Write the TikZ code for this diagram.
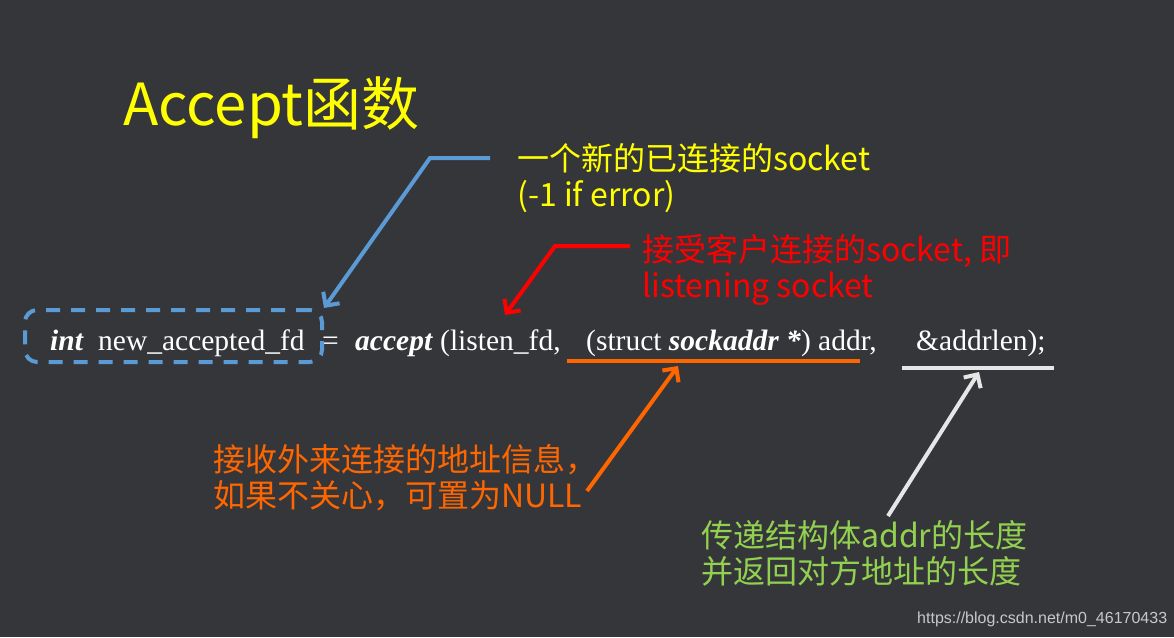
\documentclass[tikz,border=0pt]{standalone}
\usepackage{fontspec}
\setmainfont{Liberation Serif}
\newfontfamily\cjk{Noto Sans CJK SC}
\newfontfamily\urlfont{Liberation Sans}
\usetikzlibrary{arrows.meta, positioning}
\definecolor{slidebg}{HTML}{35363A}
\definecolor{titleyellow}{HTML}{FFFF00}
\definecolor{noteblue}{HTML}{5B9BD5}
\definecolor{notered}{HTML}{FF0000}
\definecolor{noteorange}{HTML}{FF6600}
\definecolor{notegreen}{HTML}{92D050}
\definecolor{notewhite}{HTML}{E6E6E6}
\definecolor{creditgray}{HTML}{C8C8C8}
\tikzstyle{note} = [inner sep=0pt, anchor=base west, align=left, font=\cjk\fontsize{32}{36}\selectfont]
\tikzstyle{code} = [inner sep=0pt, anchor=base west, text=white, font=\fontsize{29.5}{34}\selectfont]
\tikzstyle{pointer} = [line width=4pt, -{Straight Barb[length=10pt,width=20pt]}]
\tikzstyle{underline} = [line width=4pt]

\begin{document}
\begin{tikzpicture}[x=1pt, y=-1pt]

    % Slide background
    \fill[slidebg] (0,0) rectangle (1174,637);

    % Title
    \node (title) [inner sep=0pt, anchor=base west, text=titleyellow, font=\cjk\fontsize{58}{64}\selectfont] at (123,125) {Accept函数};

    % The call itself
    \node (int) [code] at (50,350) {\textbf{\textit{int}}};
    \node (newfd) [code] at (98,350) {new\_accepted\_fd};
    \node (eq) [code] at (322,350) {=};
    \node (accept) [code] at (355,350) {\textbf{\textit{accept}}};
    \node (listen) [code] at (440,350) {(listen\_fd,};
    \node (cast) [code] at (586,350) {(struct \textbf{\textit{sockaddr *}}) addr,};
    \node (addrlen) [code] at (916,350) {\&addrlen);};

    % Return value box and underlines
    \node (retbox) [draw=noteblue, line width=4pt, dash pattern=on 14pt off 11pt, rounded corners=12pt, minimum width=297pt, minimum height=52pt] at (173.5,336) {};
    \draw [underline, noteorange] (567,361) coordinate (castL) -- (860,361) coordinate (castR);
    \draw [underline, notewhite] (902,368) coordinate (lenL) -- (1054,368) coordinate (lenR);

    % Notes (anchored on the baseline of their last line)
    \node (ynote) [note, text=titleyellow] at (517,206) {一个新的已连接的socket\\(-1 if error)};
    \node (rnote) [note, text=notered] at (642,297) {接受客户连接的socket, 即\\listening socket};
    \node (onote) [note, text=noteorange] at (213,507) {接收外来连接的地址信息，\\如果不关心，可置为NULL};
    \node (gnote) [note, text=notegreen] at (701,583) {传递结构体addr的长度\\并返回对方地址的长度};

    % Pointers
    \coordinate (bluestart) at (490,158);
    \coordinate (blueknee) at (430,158);
    \coordinate (redstart) at (630,246);
    \coordinate (redknee) at (555,246);
    \coordinate (listentip) at (505,315);
    \coordinate (orangetail) at (587,491);
    \coordinate (orangetip) at (678,366);
    \coordinate (whitetail) at (888,516);
    \coordinate (whitetip) at (979,372);
    \draw [pointer, noteblue] (bluestart) -- (blueknee) -- (retbox.north east);
    \draw [pointer, notered] (redstart) -- (redknee) -- (listentip);
    \draw [pointer, noteorange] (orangetail) -- (orangetip);
    \draw [pointer, notewhite] (whitetail) -- (whitetip);

    % Credit line
    \node (credit) [inner sep=0pt, anchor=base west, text=creditgray, font=\urlfont\fontsize{16}{18}\selectfont] at (917,623) {https://blog.csdn.net/m0\_46170433};

\end{tikzpicture}
\end{document}
